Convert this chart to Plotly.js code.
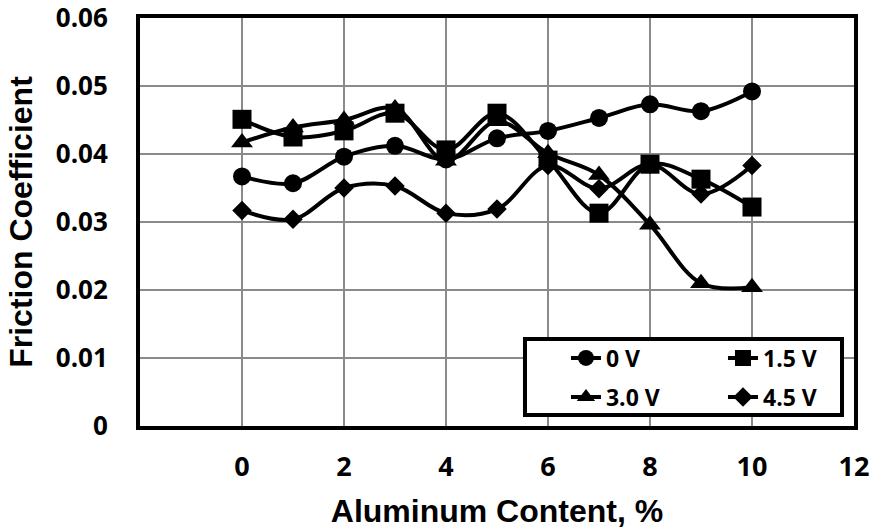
<!DOCTYPE html>
<html>
<head>
<meta charset="utf-8">
<script src="https://cdn.plot.ly/plotly-3.0.1.min.js"></script>
<style>html,body{margin:0;padding:0;background:#fff;}#chart{width:873px;height:531px;}</style>
</head>
<body>
<div id="chart"></div>
<script>
// Aluminum content (%)
var aluminum = [0, 1, 2, 3, 4, 5, 6, 7, 8, 9, 10];
// Friction coefficient series
var seriesNames = ["0 V", "1.5 V", "3.0 V", "4.5 V"];
var v0V  = [0.0367, 0.0357, 0.0396, 0.0412, 0.0392, 0.0423, 0.0434, 0.0453, 0.0473, 0.0463, 0.0492];
var v15V = [0.0451, 0.0425, 0.0434, 0.0460, 0.0406, 0.0460, 0.0391, 0.0313, 0.0385, 0.0363, 0.0322];
var v30V = [0.0417, 0.0439, 0.0450, 0.0467, 0.0390, 0.0448, 0.0401, 0.0369, 0.0296, 0.0210, 0.0204];
var v45V = [0.0317, 0.0304, 0.0350, 0.0353, 0.0313, 0.0319, 0.0383, 0.0349, 0.0385, 0.0341, 0.0383];
var xTickVals = [0, 2, 4, 6, 8, 10, 12];
var yTickVals = [0, 0.01, 0.02, 0.03, 0.04, 0.05, 0.06];
var yTickText = ["0", "0.01", "0.02", "0.03", "0.04", "0.05", "0.06"];

var seriesValues = [v0V, v15V, v30V, v45V];
var symbols = ["circle", "square", "triangle-up", "diamond"];
var sizes = [18, 19, 19, 15];
var legendIds = ["legend", "legend2", "legend3", "legend4"];

var traces = seriesValues.map(function (vals, i) {
  return {
    type: "scatter",
    mode: "lines+markers",
    x: aluminum,
    y: vals,
    name: seriesNames[i],
    legend: legendIds[i],
    line: {color: "#000000", width: 4, shape: "spline", smoothing: 1},
    marker: {symbol: symbols[i], size: sizes[i], color: "#000000"},
    cliponaxis: false
  };
});

var legendFont = {family: "Open Sans, Noto Sans, sans-serif", size: 23, color: "#000", weight: "bold"};
function mkLegend(x, y) {
  return {x: x, y: y, xanchor: "left", yanchor: "middle", bgcolor: "rgba(0,0,0,0)",
          borderwidth: 0, font: legendFont, itemclick: false};
}

var layout = {
  width: 873,
  height: 531,
  margin: {l: 140, r: 19, t: 18, b: 105},
  paper_bgcolor: "#ffffff",
  plot_bgcolor: "#ffffff",
  showlegend: true,
  xaxis: {
    range: [-2, 12],
    tickvals: xTickVals,
    ticks: "",
    ticklabelstandoff: 14,
    ticklabeloverflow: "allow",
    showgrid: true,
    gridcolor: "#8a8a8a",
    gridwidth: 2,
    zeroline: false,
    showline: true,
    mirror: true,
    linecolor: "#000000",
    linewidth: 4,
    tickfont: {family: "Open Sans, Noto Sans, sans-serif", size: 27, color: "#000", weight: "bold"},
    title: {text: "Aluminum Content, %", standoff: 17,
            font: {family: "Liberation Sans, Arial, sans-serif", size: 32, color: "#000", weight: "bold"}}
  },
  yaxis: {
    range: [0, 0.0600001],
    tickvals: yTickVals,
    ticktext: yTickText,
    ticks: "",
    ticklabelstandoff: 23,
    ticklabeloverflow: "allow",
    showgrid: true,
    gridcolor: "#8a8a8a",
    gridwidth: 2,
    zeroline: false,
    showline: true,
    mirror: true,
    linecolor: "#000000",
    linewidth: 4,
    tickfont: {family: "Open Sans, Noto Sans, sans-serif", size: 26, color: "#000", weight: "bold"},
    title: {text: "Friction Coefficient", standoff: 15,
            font: {family: "Liberation Sans, Arial, sans-serif", size: 32, color: "#000", weight: "bold"}}
  },
  legend: mkLegend(0.5966, 0.1667),
  legend2: mkLegend(0.8165, 0.1667),
  legend3: mkLegend(0.5966, 0.0711),
  legend4: mkLegend(0.8165, 0.0711),
  shapes: [{
    type: "rect", xref: "paper", yref: "paper",
    x0: 0.5392, x1: 0.9832, y0: 0.027, y1: 0.2132,
    line: {color: "#000000", width: 4},
    fillcolor: "#ffffff",
    layer: "above"
  }]
};

Plotly.newPlot("chart", traces, layout, {displayModeBar: false, staticPlot: true});
</script>
</body>
</html>
